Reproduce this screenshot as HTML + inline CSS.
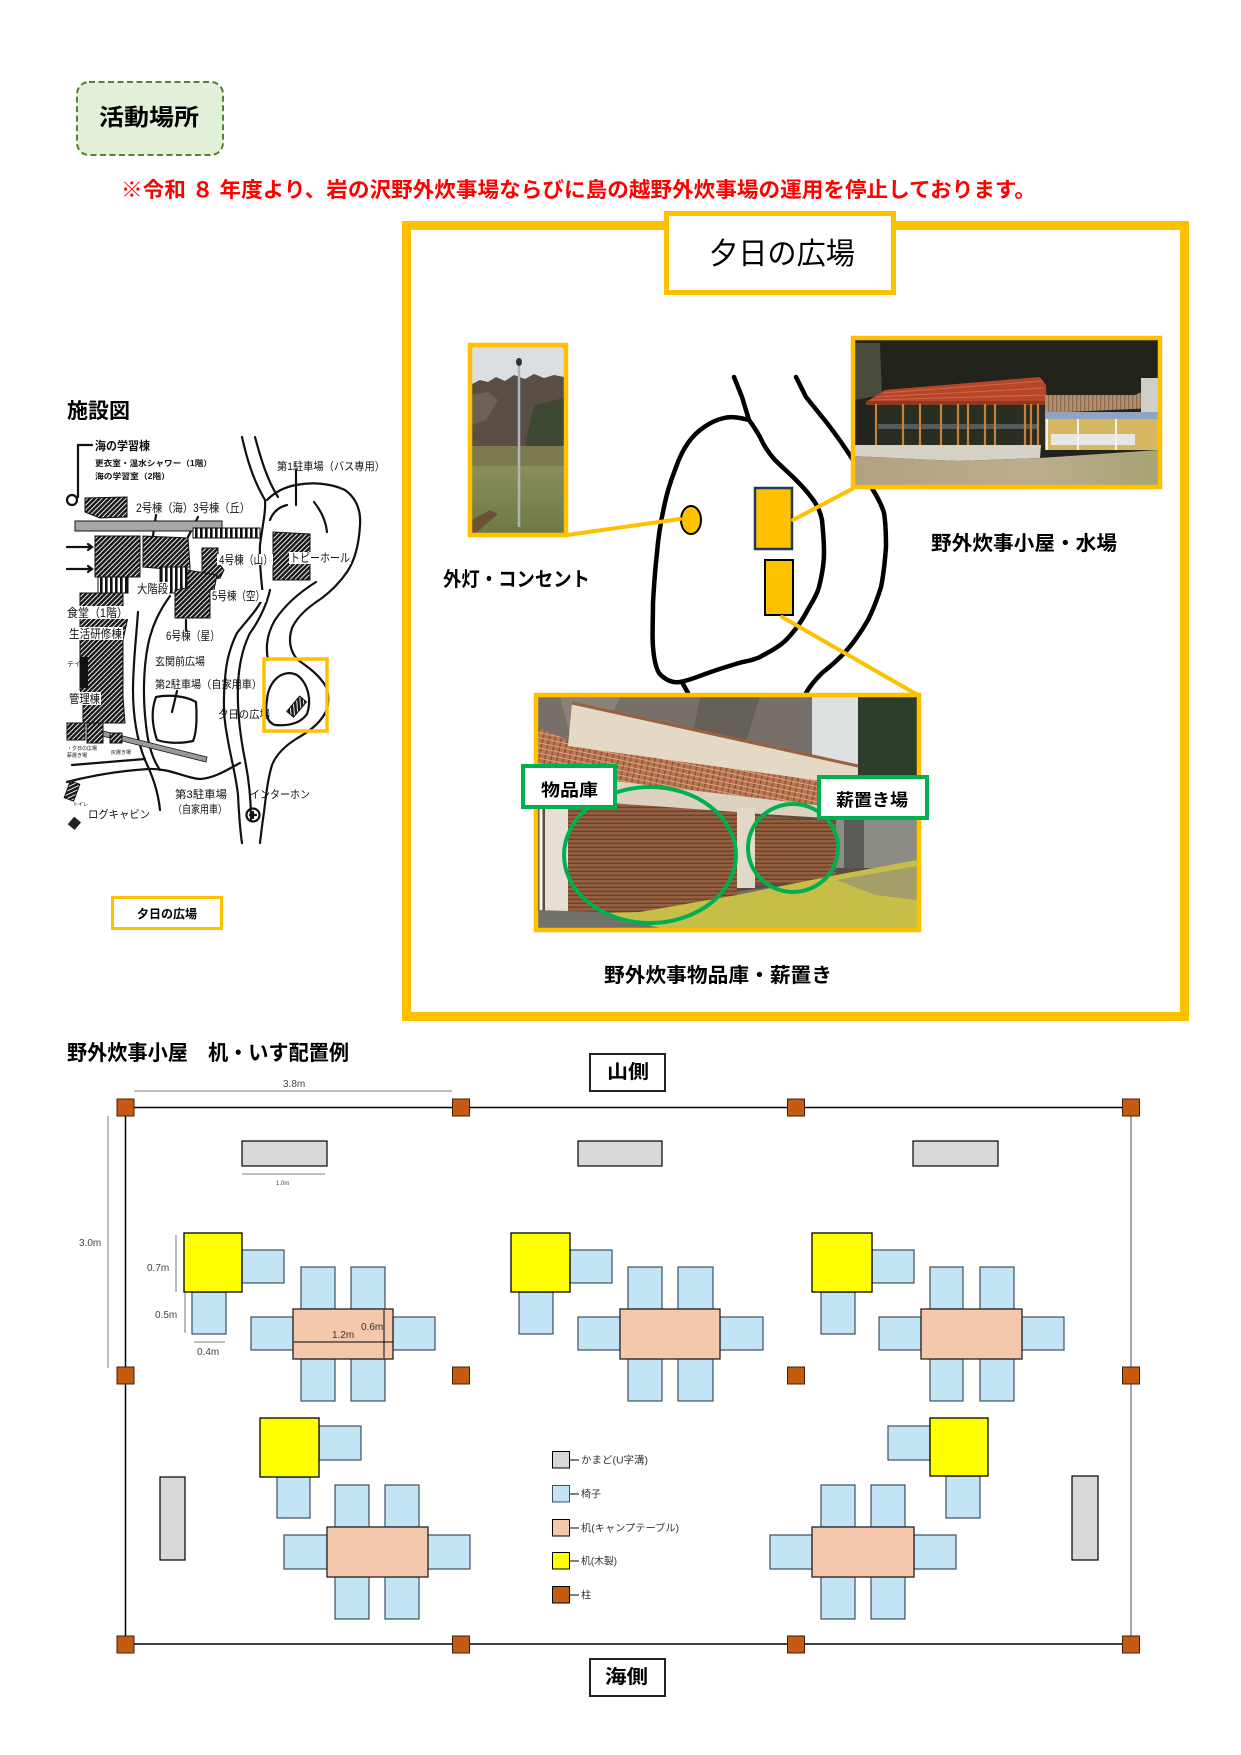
<!DOCTYPE html>
<html><head><meta charset="utf-8">
<style>
html,body{margin:0;padding:0;background:#fff;}
svg{display:block;}
text{font-family:"Liberation Sans","Noto Sans CJK JP",sans-serif;}
.b{font-weight:700;}
</style></head>
<body>
<svg width="1241" height="1755" viewBox="0 0 1241 1755" xmlns="http://www.w3.org/2000/svg">
<defs>
<pattern id="h" patternUnits="userSpaceOnUse" width="3.4" height="3.4" patternTransform="rotate(45)"><rect width="3.4" height="3.4" fill="#fff"/><rect width="2.5" height="3.4" fill="#1a1a1a"/></pattern>
<pattern id="vs" patternUnits="userSpaceOnUse" width="5" height="5"><rect width="5" height="5" fill="#fff"/><rect width="2.6" height="5" fill="#111"/></pattern>
<pattern id="sh" patternUnits="userSpaceOnUse" width="6" height="4"><rect width="6" height="4" fill="#94603f"/><rect y="2.6" width="6" height="1.4" fill="#6a4230"/></pattern>
<pattern id="tl" patternUnits="userSpaceOnUse" width="6" height="5" patternTransform="rotate(12)"><rect width="6" height="5" fill="#b97650"/><rect width="1.5" height="5" fill="#8a5238"/><rect y="4" width="6" height="1" fill="#dba27c"/></pattern>
<pattern id="tl2" patternUnits="userSpaceOnUse" width="4" height="6"><rect width="4" height="6" fill="#b28e6c"/><rect width="1.2" height="6" fill="#8c6a50"/></pattern>
<linearGradient id="grass1" x1="0" y1="0" x2="0" y2="1"><stop offset="0" stop-color="#8a8e5a"/><stop offset="1" stop-color="#6e7a46"/></linearGradient>
<linearGradient id="gnd2" x1="0" y1="0" x2="1" y2="0"><stop offset="0" stop-color="#b4a083"/><stop offset="0.6" stop-color="#bcac8e"/><stop offset="1" stop-color="#a6a474"/></linearGradient>
<clipPath id="cp1"><rect x="472" y="347" width="92" height="186"/></clipPath>
<clipPath id="cp2"><rect x="855" y="340" width="303" height="145"/></clipPath>
<clipPath id="cp3"><rect x="538" y="697" width="379" height="231"/></clipPath>
</defs>

<!-- header -->
<rect x="77" y="82" width="146" height="73" rx="12" fill="#E2EFD9" stroke="#548235" stroke-width="2" stroke-dasharray="6 3.5"/>
<text x="99" y="125" font-size="23" class="b" textLength="100" lengthAdjust="spacingAndGlyphs">活動場所</text>

<text x="121" y="197" font-size="21" class="b" fill="#FF0000" textLength="915" lengthAdjust="spacingAndGlyphs">※令和 ８ 年度より、岩の沢野外炊事場ならびに島の越野外炊事場の運用を停止しております。</text>

<!-- big frame -->
<rect x="406.5" y="225.5" width="778" height="791" fill="none" stroke="#FFC000" stroke-width="9"/>
<rect x="666.5" y="213.5" width="227" height="79" fill="#fff" stroke="#FFC000" stroke-width="5"/>
<text x="709" y="264" font-size="30" textLength="146" lengthAdjust="spacingAndGlyphs">夕日の広場</text>

<!-- blob map -->
<g fill="none" stroke="#000" stroke-width="4.5" stroke-linejoin="round" stroke-linecap="round">
<path d="M734,377 L742,397 L749,420 C741,418 732,416 724,418 C711,421 697,430 688,443 C679,456 677,465 675,470 C669,485 666,497 664,507 C660,525 658,540 657,553 C655,570 654,585 653,603 C653,620 652,635 653,647 C654,660 656,668 659,673 C666,681 673,683 680,682 C691,680 699,676 708,673 C719,669 729,666 739,663 C747,661 754,660 760,657 C769,652 779,647 786,640 C795,631 801,622 806,613 C812,602 817,595 819,587 C822,575 824,565 824,553 C824,540 823,530 822,520 C820,510 816,503 811,497 C806,490 801,485 796,480 C789,473 781,466 775,460 C768,452 763,444 760,437 C756,430 752,424 749,420"/>
<path d="M796,377 L806,397 L827,423 C837,436 846,449 853,460 C861,472 868,482 873,490 C878,498 882,506 884,513 C886,525 886,536 886,547 C885,560 884,573 881,587 C877,600 873,610 868,620 C861,632 854,642 847,650 C839,659 831,666 822,673 C815,680 810,686 806,693"/>
<path d="M682,682 L688,693"/>
</g>
<ellipse cx="691" cy="520" rx="10" ry="14" fill="#FFC000" stroke="#000" stroke-width="2"/>
<rect x="755" y="488" width="37" height="61" fill="#FFC000" stroke="#203864" stroke-width="2.5"/>
<rect x="765" y="560" width="28" height="55" fill="#FFC000" stroke="#000" stroke-width="2"/>
<g stroke="#FFC000" stroke-width="4" stroke-linecap="round">
<line x1="567" y1="535" x2="680" y2="519"/>
<line x1="793" y1="520" x2="852" y2="489"/>
<line x1="782" y1="617" x2="916" y2="694"/>
</g>

<!-- pole photo -->
<g clip-path="url(#cp1)">
<rect x="472" y="347" width="92" height="186" fill="#dcdfe2"/>
<path d="M472,384 L480,380 L488,382 L496,377 L505,381 L514,375 L525,379 L534,374 L544,378 L554,375 L564,377 L564,470 L472,470Z" fill="#5b4f45"/>
<path d="M472,395 L488,392 L498,400 L486,420 L472,425Z" fill="#6e6258"/>
<path d="M534,405 L564,398 L564,462 L528,466 L526,440Z" fill="#3d4934"/>
<rect x="472" y="446" width="92" height="22" fill="#7a7a4e"/>
<rect x="472" y="466" width="92" height="67" fill="url(#grass1)"/>
<path d="M472,520 L490,510 L498,514 L476,533 L472,533Z" fill="#6a5238"/>
<line x1="519" y1="364" x2="519" y2="527" stroke="#b0b4b8" stroke-width="2.5"/>
<ellipse cx="519" cy="362" rx="3" ry="4" fill="#333"/>
</g>
<rect x="470" y="345" width="96" height="190" fill="none" stroke="#FFC000" stroke-width="4.5"/>

<!-- cooking hut photo -->
<g clip-path="url(#cp2)">
<rect x="855" y="340" width="303" height="145" fill="#22231b"/>
<path d="M855,343 L880,343 L882,395 L855,400Z" fill="#474c3c"/>
<rect x="878" y="405" width="170" height="42" fill="#2a2e22"/>
<rect x="878" y="424" width="160" height="5" fill="#7c8c90" opacity="0.5"/>
<path d="M866,402 L885,390 L1040,377 L1046,385 L1047,402Z" fill="#b5462a"/>
<g stroke="#d87050" stroke-width="1" opacity="0.8">
<line x1="883" y1="393" x2="1043" y2="381"/><line x1="876" y1="397" x2="1044" y2="388"/><line x1="870" y1="400" x2="1045" y2="395"/>
</g>
<rect x="866" y="401" width="181" height="4" fill="#8e3a20"/>
<g stroke="#c8803a" stroke-width="2.2">
<line x1="876" y1="404" x2="876" y2="447"/><line x1="903" y1="404" x2="903" y2="449"/><line x1="920" y1="404" x2="920" y2="449"/><line x1="941" y1="404" x2="941" y2="448"/><line x1="958" y1="404" x2="958" y2="451"/><line x1="968" y1="404" x2="968" y2="448"/><line x1="985" y1="404" x2="985" y2="448"/><line x1="995" y1="404" x2="995" y2="448"/><line x1="1025" y1="404" x2="1025" y2="455"/><line x1="1031" y1="404" x2="1031" y2="452"/><line x1="1038" y1="404" x2="1038" y2="450"/>
</g>
<path d="M853,445 L1041,445 L1040,458 L958,461 L853,456Z" fill="#d6d2c8"/>
<path d="M1045,395 L1135,395 L1148,389 L1155,408 L1045,413Z" fill="url(#tl2)"/>
<rect x="1141" y="378" width="17" height="72" fill="#cfcfca"/>
<rect x="1045" y="412" width="113" height="7" fill="#8ea4c2"/>
<rect x="1045" y="419" width="113" height="31" fill="#d6b862"/>
<rect x="1051" y="434" width="84" height="11" fill="#e6e6e2"/>
<g stroke="#f2f2f2" stroke-width="2"><line x1="1047" y1="419" x2="1047" y2="450"/><line x1="1078" y1="419" x2="1078" y2="450"/><line x1="1116" y1="419" x2="1116" y2="450"/></g>
<path d="M855,456 L958,461 L1040,458 L1158,450 L1158,485 L855,485Z" fill="url(#gnd2)"/>
</g>
<rect x="853" y="338" width="307" height="149" fill="none" stroke="#FFC000" stroke-width="4.5"/>

<!-- storage photo -->
<g clip-path="url(#cp3)">
<rect x="538" y="697" width="379" height="231" fill="#77706a"/>
<path d="M560,697 L620,697 L600,740 L570,735Z" fill="#8a827a"/>
<path d="M700,697 L760,697 L740,760 L690,750Z" fill="#65605a"/>
<path d="M812,697 L864,697 L864,792 L812,782Z" fill="#dde0e0"/>
<path d="M858,697 L917,697 L917,838 L866,842 L858,782Z" fill="#2e3c2c"/>
<path d="M538,728 L568,740 L858,785 L858,810 L538,772Z" fill="url(#tl)"/>
<path d="M572,703 L858,766 L858,786 L568,746Z" fill="#e4d9c4"/>
<line x1="572" y1="703" x2="858" y2="766" stroke="#9a6040" stroke-width="3"/>
<path d="M538,772 L858,810 L858,822 L538,802Z" fill="#dcd2bf"/>
<path d="M538,800 L858,820 L917,822 L917,870 L538,915Z" fill="#5b4c42"/>
<path d="M568,800 L737,812 L737,912 L568,918Z" fill="url(#sh)"/>
<path d="M755,815 L836,822 L836,880 L755,885Z" fill="url(#sh)"/>
<rect x="545" y="790" width="23" height="135" fill="#e6e0d4"/>
<line x1="541" y1="790" x2="541" y2="928" stroke="#f4f4f4" stroke-width="3"/>
<rect x="737" y="808" width="18" height="80" fill="#e0d8c8"/>
<rect x="836" y="818" width="81" height="50" fill="#8c8c84"/>
<rect x="844" y="820" width="20" height="48" fill="#5c5c56"/>
<path d="M538,915 L640,912 L737,895 L836,875 L917,860 L917,928 L538,928Z" fill="#c6be48"/>
<path d="M538,910 L600,912 L660,928 L538,928Z" fill="#72726a"/>
<path d="M836,880 L917,866 L917,900 L876,895Z" fill="#8a8a80" opacity="0.6"/>
</g>
<rect x="536" y="695" width="383" height="235" fill="none" stroke="#FFC000" stroke-width="4.5"/>
<ellipse cx="650" cy="855" rx="86" ry="68" fill="none" stroke="#00B050" stroke-width="4"/>
<ellipse cx="793" cy="848" rx="45" ry="44" fill="none" stroke="#00B050" stroke-width="4"/>
<rect x="523" y="766" width="92" height="41" fill="#fff" stroke="#00B050" stroke-width="4"/>
<text x="541" y="796" font-size="17" class="b" textLength="57" lengthAdjust="spacingAndGlyphs">物品庫</text>
<rect x="819" y="777" width="108" height="41" fill="#fff" stroke="#00B050" stroke-width="4"/>
<text x="836" y="806" font-size="17" class="b" textLength="72" lengthAdjust="spacingAndGlyphs">薪置き場</text>

<text x="443" y="586" font-size="20" class="b" textLength="147" lengthAdjust="spacingAndGlyphs">外灯・コンセント</text>
<text x="931" y="550" font-size="20" class="b" textLength="186" lengthAdjust="spacingAndGlyphs">野外炊事小屋・水場</text>
<text x="604" y="982" font-size="20" class="b" textLength="228" lengthAdjust="spacingAndGlyphs">野外炊事物品庫・薪置き</text>

<!-- facility map -->
<text x="67" y="418" font-size="21" class="b" textLength="63" lengthAdjust="spacingAndGlyphs">施設図</text>
<g stroke="#111" stroke-width="2.2" fill="none" stroke-linecap="round">
<path d="M92,445 H78 V497"/>
<circle cx="72" cy="500" r="5"/>
<path d="M242,437 C246,455 252,478 265,500 C266,512 262,528 260,545 C259,565 262,585 263,597 C258,610 245,622 237,633 C231,645 226,660 225,680 C223,700 224,720 227,735 C230,755 236,775 238,795 C239,815 240,830 242,843"/>
<path d="M255,437 C260,455 266,478 278,497"/>
<path d="M270,590 C266,608 256,625 250,633 C244,645 239,662 238,685 C237,710 240,735 245,760 C249,780 251,800 251,820"/>
<path d="M267,500 C275,492 285,487 296,485 C312,482 330,483 345,490 C356,498 361,510 360,525 C359,545 355,560 347,572 C338,585 330,592 322,598 C310,606 298,615 292,628 C288,640 290,652 298,660 C308,667 318,674 325,685 C330,695 329,707 324,715 C318,725 308,732 296,739 C285,746 276,755 272,765 C268,778 266,795 264,812 C262,825 261,835 260,843"/>
<path d="M270,520 C273,512 279,507 287,505"/>
<path d="M314,502 C322,512 326,522 327,532"/>
<path d="M316,582 C300,592 285,605 275,620 C268,632 265,645 268,660"/>
<path d="M267,700 C268,682 282,668 297,675 C308,683 312,700 307,714 C300,724 287,726 275,725 C266,722 265,712 267,700 Z"/>
<path d="M296,470 L296,505"/>
<path d="M170,596 C160,610 152,625 148,645 C143,670 143,700 146,725 C148,745 153,760 160,770"/>
<path d="M138,612 C136,640 133,665 133,690 C133,715 137,740 145,760 C152,775 158,790 160,810"/>
<path d="M67,782 C90,776 118,771 148,769 C170,768 185,778 200,779 C216,778 230,768 240,763"/>
<path d="M72,765 C95,763 120,761 145,759"/>
<path d="M156,697 C172,694 188,697 196,702 C197,717 197,732 193,741 C180,744 166,743 157,740 C152,725 151,710 156,697 Z"/>
<path d="M156,515 L153,536"/>
<path d="M198,517 L188,537"/>
<path d="M177,691 L172,712"/>
<path d="M186,620 L186,630"/>
<path d="M67,547 H92 M88,544 L92,547 L88,550"/>
<path d="M67,569 H92 M88,566 L92,569 L88,572"/>
<circle cx="253" cy="815" r="6.5"/>
<path d="M250,815 H256 M253,812 V818"/>
</g>
<path d="M103,731 L207,757 L206,762 L102,736Z" fill="#999" stroke="#111" stroke-width="0.8"/>
<rect x="75" y="521" width="147" height="10" fill="#a6a6a6" stroke="#111" stroke-width="1"/>
<rect x="193" y="528" width="67" height="10" fill="url(#vs)" stroke="#111" stroke-width="1"/>
<g fill="url(#h)" stroke="#111" stroke-width="1">
<path d="M85,498 L127,497 L127,517 L100,518 L85,512Z"/>
<path d="M95,536 L140,536 L140,577 L95,577Z"/>
<rect x="98" y="577" width="30" height="16" fill="url(#vs)"/>
<path d="M143,536 L188,538 L190,567 L178,570 L143,567Z"/>
<rect x="160" y="567" width="30" height="26" fill="url(#vs)"/>
<path d="M202,548 L218,548 L218,562 L224,570 L220,578 L208,580 L202,587Z"/>
<path d="M187,570 L217,575 L214,590 L210,590 L210,618 L175,618 L175,590 L187,588Z"/>
<path d="M80,593 L123,593 L123,607 L128,617 L123,640 L123,697 L125,723 L83,723 L83,697 L80,690Z"/>
<path d="M273,532 L310,534 L310,580 L273,580Z"/>
<rect x="67" y="723" width="18" height="17"/>
<rect x="87" y="723" width="16" height="20"/>
<rect x="110" y="733" width="12" height="10"/>
<rect x="67" y="782" width="10" height="18" transform="rotate(20 72 791)"/>
<rect x="287" y="702" width="20" height="9" transform="rotate(-50 297 707)"/>
</g>
<rect x="80" y="657" width="8" height="31" fill="#111"/>
<rect x="70" y="818" width="9" height="10" fill="#222" transform="rotate(40 74 823)"/>
<g fill="#fff">
<rect x="66" y="606" width="63" height="13"/><rect x="67" y="627" width="56" height="13"/><rect x="67" y="692" width="34" height="13"/>
<rect x="289" y="552" width="62" height="12"/><rect x="217" y="554" width="56" height="11"/><rect x="135" y="582" width="34" height="13"/><rect x="211" y="590" width="55" height="12"/>
</g>
<g font-size="11" fill="#111">
<text x="95" y="450" class="b" font-size="12" textLength="55" lengthAdjust="spacingAndGlyphs">海の学習棟</text>
<text x="95" y="466" font-size="8" class="b" textLength="117" lengthAdjust="spacingAndGlyphs">更衣室・温水シャワー（1階）</text>
<text x="95" y="479" font-size="8" class="b" textLength="75" lengthAdjust="spacingAndGlyphs">海の学習室（2階）</text>
<text x="277" y="470" textLength="108" lengthAdjust="spacingAndGlyphs">第1駐車場（バス専用）</text>
<text x="136" y="512" font-size="12" textLength="114" lengthAdjust="spacingAndGlyphs">2号棟（海）3号棟（丘）</text>
<text x="219" y="564" font-size="12" textLength="54" lengthAdjust="spacingAndGlyphs">4号棟（山）</text>
<text x="290" y="562" font-size="12" textLength="60" lengthAdjust="spacingAndGlyphs">トピーホール</text>
<text x="137" y="593" font-size="12" textLength="31" lengthAdjust="spacingAndGlyphs">大階段</text>
<text x="212" y="600" font-size="12" textLength="53" lengthAdjust="spacingAndGlyphs">5号棟（空）</text>
<text x="67" y="617" font-size="12" textLength="61" lengthAdjust="spacingAndGlyphs">食堂（1階）</text>
<text x="69" y="638" font-size="12" textLength="53" lengthAdjust="spacingAndGlyphs">生活研修棟</text>
<text x="166" y="640" font-size="12" textLength="54" lengthAdjust="spacingAndGlyphs">6号棟（星）</text>
<text x="67" y="666" font-size="7">テイ</text>
<text x="155" y="665" textLength="50" lengthAdjust="spacingAndGlyphs">玄関前広場</text>
<text x="155" y="688" textLength="107" lengthAdjust="spacingAndGlyphs">第2駐車場（自家用車）</text>
<text x="69" y="703" font-size="12" textLength="31" lengthAdjust="spacingAndGlyphs">管理棟</text>
<text x="218" y="718" textLength="52" lengthAdjust="spacingAndGlyphs">夕日の広場</text>
<text x="67" y="750" font-size="5">・夕日の広場</text>
<text x="67" y="757" font-size="5">薪置き場</text>
<text x="111" y="754" font-size="5">灰置き場</text>
<text x="175" y="798" textLength="52" lengthAdjust="spacingAndGlyphs">第3駐車場</text>
<text x="173" y="813" textLength="54" lengthAdjust="spacingAndGlyphs">（自家用車）</text>
<text x="250" y="798" textLength="60" lengthAdjust="spacingAndGlyphs">インターホン</text>
<text x="73" y="806" font-size="5">トイレ</text>
<text x="88" y="818" textLength="62" lengthAdjust="spacingAndGlyphs">ログキャビン</text>
</g>
<rect x="264" y="659" width="63" height="72" fill="none" stroke="#FFC000" stroke-width="3.5"/>
<rect x="112.5" y="897.5" width="109" height="31" fill="#fff" stroke="#FFC000" stroke-width="3"/>
<text x="137" y="918" font-size="12" class="b" textLength="60" lengthAdjust="spacingAndGlyphs">夕日の広場</text>

<!-- floor plan -->
<text x="67" y="1060" font-size="21" class="b" textLength="282" lengthAdjust="spacingAndGlyphs">野外炊事小屋　机・いす配置例</text>
<rect x="590" y="1054" width="75" height="37" fill="#fff" stroke="#222" stroke-width="2"/>
<text x="607" y="1078" font-size="19" class="b" textLength="42" lengthAdjust="spacingAndGlyphs">山側</text>
<rect x="590" y="1659" width="75" height="37" fill="#fff" stroke="#222" stroke-width="2"/>
<text x="605" y="1683" font-size="19" class="b" textLength="43" lengthAdjust="spacingAndGlyphs">海側</text>

<g stroke="#555" stroke-width="0.8" fill="none">
<line x1="134" y1="1091" x2="452" y2="1091"/>
<line x1="108" y1="1116" x2="108" y2="1368"/>
<line x1="242" y1="1174" x2="325" y2="1174"/>
<line x1="176" y1="1235" x2="176" y2="1292"/>
<line x1="185" y1="1293" x2="185" y2="1333"/>
<line x1="194" y1="1342" x2="225" y2="1342"/>
</g>
<g font-size="10" fill="#444">
<text x="283" y="1087">3.8m</text>
<text x="79" y="1246">3.0m</text>
<text x="276" y="1185" font-size="6">1.0m</text>
<text x="147" y="1271">0.7m</text>
<text x="155" y="1318">0.5m</text>
<text x="197" y="1355">0.4m</text>
</g>

<line x1="125.5" y1="1107.5" x2="1131" y2="1107.5" stroke="#000" stroke-width="1.5"/>
<line x1="125.5" y1="1644" x2="1131" y2="1644" stroke="#000" stroke-width="1.5"/>
<line x1="125.5" y1="1107" x2="125.5" y2="1644" stroke="#000" stroke-width="1.5"/>
<line x1="1131" y1="1107" x2="1131" y2="1644" stroke="#888" stroke-width="1.5"/>

<!-- kamado -->
<g fill="#D9D9D9" stroke="#000" stroke-width="1.2">
<rect x="242" y="1141" width="85" height="25"/>
<rect x="578" y="1141" width="84" height="25"/>
<rect x="913" y="1141" width="85" height="25"/>
<rect x="160" y="1477" width="25" height="83"/>
<rect x="1072" y="1476" width="26" height="84"/>
</g>
<!-- chairs -->
<g fill="#C3E4F4" stroke="#3c5060" stroke-width="1.2">
<rect x="242" y="1250" width="42" height="33"/><rect x="192" y="1292" width="34" height="42"/>
<rect x="301" y="1267" width="34" height="42"/><rect x="351" y="1267" width="34" height="42"/>
<rect x="301" y="1359" width="34" height="42"/><rect x="351" y="1359" width="34" height="42"/>
<rect x="251" y="1317" width="42" height="33"/><rect x="393" y="1317" width="42" height="33"/>

<rect x="570" y="1250" width="42" height="33"/><rect x="519" y="1292" width="34" height="42"/>
<rect x="628" y="1267" width="34" height="42"/><rect x="678" y="1267" width="35" height="42"/>
<rect x="628" y="1359" width="34" height="42"/><rect x="678" y="1359" width="35" height="42"/>
<rect x="578" y="1317" width="42" height="33"/><rect x="720" y="1317" width="43" height="33"/>

<rect x="872" y="1250" width="42" height="33"/><rect x="821" y="1292" width="34" height="42"/>
<rect x="930" y="1267" width="33" height="42"/><rect x="980" y="1267" width="34" height="42"/>
<rect x="930" y="1359" width="33" height="42"/><rect x="980" y="1359" width="34" height="42"/>
<rect x="879" y="1317" width="42" height="33"/><rect x="1022" y="1317" width="42" height="33"/>

<rect x="319" y="1426" width="42" height="34"/><rect x="277" y="1477" width="33" height="41"/>
<rect x="335" y="1485" width="34" height="42"/><rect x="385" y="1485" width="34" height="42"/>
<rect x="335" y="1577" width="34" height="42"/><rect x="385" y="1577" width="34" height="42"/>
<rect x="284" y="1535" width="43" height="34"/><rect x="428" y="1535" width="42" height="34"/>

<rect x="888" y="1426" width="42" height="34"/><rect x="946" y="1476" width="34" height="42"/>
<rect x="821" y="1485" width="34" height="42"/><rect x="871" y="1485" width="34" height="42"/>
<rect x="821" y="1577" width="34" height="42"/><rect x="871" y="1577" width="34" height="42"/>
<rect x="770" y="1535" width="42" height="34"/><rect x="914" y="1535" width="42" height="34"/>
</g>
<!-- tables -->
<g fill="#FFFF00" stroke="#000" stroke-width="1.3">
<rect x="184" y="1233" width="58" height="59"/>
<rect x="511" y="1233" width="59" height="59"/>
<rect x="812" y="1233" width="60" height="59"/>
<rect x="260" y="1418" width="59" height="59"/>
<rect x="930" y="1418" width="58" height="58"/>
</g>
<g fill="#F5C8AE" stroke="#222" stroke-width="1.3">
<rect x="293" y="1309" width="100" height="50"/>
<rect x="620" y="1309" width="100" height="50"/>
<rect x="921" y="1309" width="101" height="50"/>
<rect x="327" y="1527" width="101" height="50"/>
<rect x="812" y="1527" width="102" height="50"/>
</g>
<g stroke="#000" stroke-width="1">
<line x1="294" y1="1342" x2="393" y2="1342"/>
<line x1="384" y1="1310" x2="384" y2="1358"/>
</g>
<text x="332" y="1338" font-size="10" fill="#333">1.2m</text>
<text x="361" y="1330" font-size="10" fill="#333">0.6m</text>

<!-- pillars -->
<g fill="#C55A11" stroke="#40200a" stroke-width="1">
<rect x="117" y="1099" width="17" height="17"/><rect x="452.5" y="1099" width="17" height="17"/><rect x="787.5" y="1099" width="17" height="17"/><rect x="1122.5" y="1099" width="17" height="17"/>
<rect x="117" y="1367" width="17" height="17"/><rect x="452.5" y="1367" width="17" height="17"/><rect x="787.5" y="1367" width="17" height="17"/><rect x="1122.5" y="1367" width="17" height="17"/>
<rect x="117" y="1636" width="17" height="17"/><rect x="452.5" y="1636" width="17" height="17"/><rect x="787.5" y="1636" width="17" height="17"/><rect x="1122.5" y="1636" width="17" height="17"/>
</g>

<!-- legend -->
<g stroke="#000" stroke-width="1">
<rect x="552.5" y="1451.5" width="17" height="16.5" fill="#D9D9D9"/>
<rect x="552.5" y="1485.5" width="17" height="16.5" fill="#C3E4F4" stroke="#3c5060"/>
<rect x="552.5" y="1519.5" width="17" height="16.5" fill="#F5C8AE"/>
<rect x="552.5" y="1552.5" width="17" height="16.5" fill="#FFFF00"/>
<rect x="552.5" y="1586.5" width="17" height="16.5" fill="#C55A11"/>
<line x1="570" y1="1460" x2="579" y2="1460"/>
<line x1="570" y1="1494" x2="579" y2="1494"/>
<line x1="570" y1="1528" x2="579" y2="1528"/>
<line x1="570" y1="1561" x2="579" y2="1561"/>
<line x1="570" y1="1595" x2="579" y2="1595"/>
</g>
<g font-size="10" fill="#333">
<text x="581" y="1463.5" textLength="67" lengthAdjust="spacingAndGlyphs">かまど(U字溝)</text>
<text x="581" y="1497.5">椅子</text>
<text x="581" y="1531.5" textLength="98" lengthAdjust="spacingAndGlyphs">机(キャンプテーブル)</text>
<text x="581" y="1564.5" textLength="36" lengthAdjust="spacingAndGlyphs">机(木製)</text>
<text x="581" y="1598.5">柱</text>
</g>
</svg>
</body></html>
